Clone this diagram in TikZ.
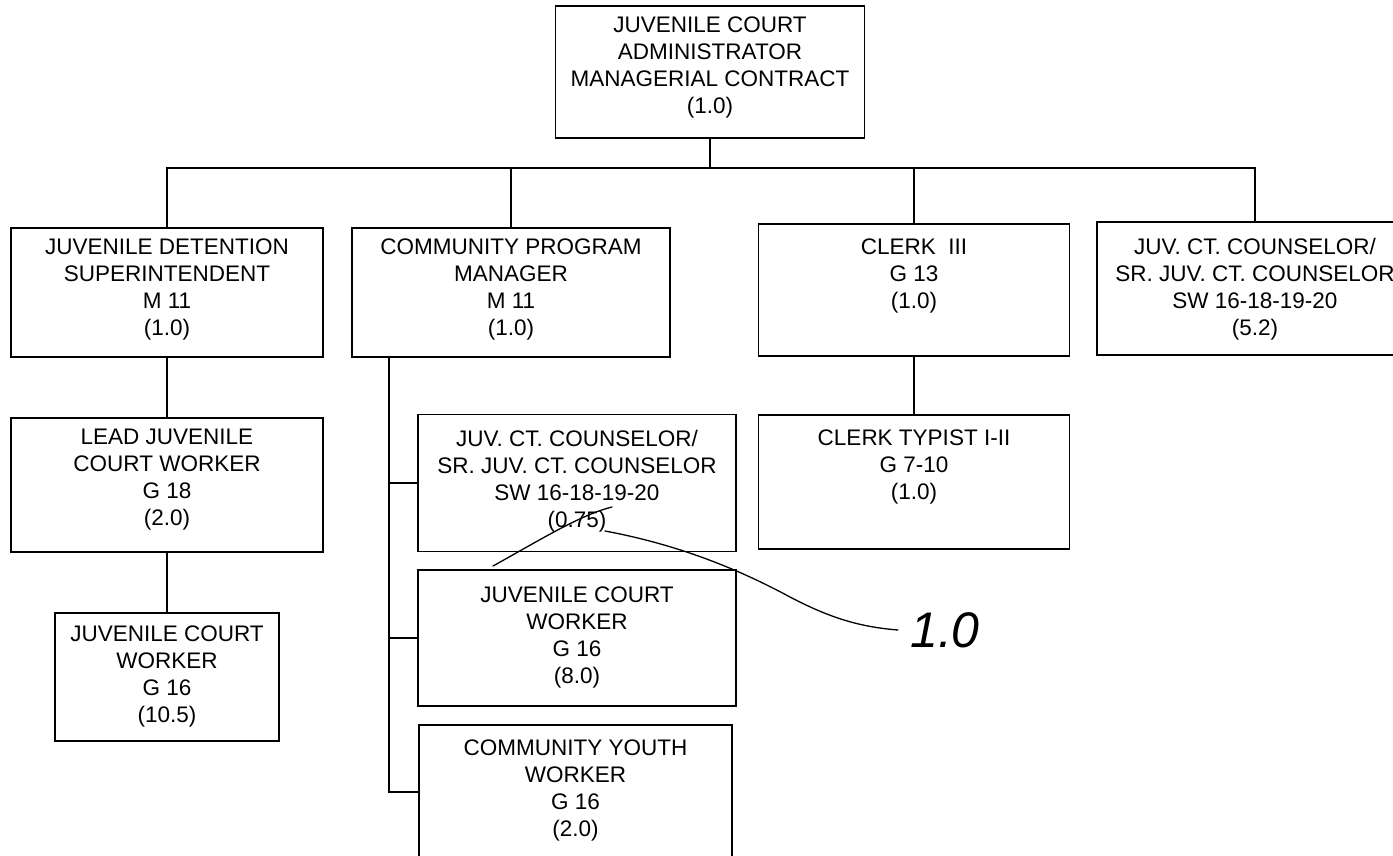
\documentclass[tikz,border=0pt]{standalone}
\usepackage{fontspec}
\setmainfont{Liberation Sans}
\begin{document}
\begin{tikzpicture}[x=1pt,y=-1pt,
  box/.style={draw, line width=1.8pt, inner sep=0pt},
  txt/.style={align=center, inner sep=0pt, anchor=north, font=\fontsize{22.5}{27}\selectfont},
  conn/.style={line width=1.8pt},
  ink/.style={line width=1.3pt, line cap=round}]
\useasboundingbox (0,0) rectangle (1393,856);
\fill[white] (0,0) rectangle (1393,856);

% boxes
\node[box, minimum width=309pt, minimum height=132pt] (adm) at (710,72) {};
\node[box, minimum width=312pt, minimum height=129pt] (jds) at (167,292.5) {};
\node[box, minimum width=318pt, minimum height=129pt] (cpm) at (511,292.5) {};
\node[box, minimum width=311pt, minimum height=132pt] (clk) at (914,290) {};
\node[box, minimum width=316pt, minimum height=133pt] (jcc) at (1255,288.5) {};
\node[box, minimum width=312pt, minimum height=134pt] (ljcw) at (167,485) {};
\node[box, minimum width=224pt, minimum height=128pt] (jcwl) at (167,677) {};
\node[box, minimum width=318pt, minimum height=137pt] (jccm) at (577,483) {};
\node[box, minimum width=318pt, minimum height=136pt] (jcwm) at (577,638) {};
\node[box, minimum width=313pt, minimum height=134pt] (cyw) at (575.5,792) {};
\node[box, minimum width=311pt, minimum height=134pt] (typ) at (914,482) {};

% texts
\node[txt] (tadm) at ([yshift=-11pt]adm.north) {JUVENILE COURT\\ADMINISTRATOR\\MANAGERIAL CONTRACT\\(1.0)};
\node[txt] (tjds) at ([yshift=-11pt]jds.north) {JUVENILE DETENTION\\SUPERINTENDENT\\M 11\\(1.0)};
\node[txt] (tcpm) at ([yshift=-11pt]cpm.north) {COMMUNITY PROGRAM\\MANAGER\\M 11\\(1.0)};
\node[txt] (tclk) at ([yshift=-15pt]clk.north) {CLERK\ \ III\\G 13\\(1.0)};
\node[txt] (tjcc) at ([yshift=-17pt]jcc.north) {JUV. CT. COUNSELOR/\\SR. JUV. CT. COUNSELOR\\SW 16-18-19-20\\(5.2)};
\node[txt] (tljcw) at ([yshift=-12pt]ljcw.north) {LEAD JUVENILE\\COURT WORKER\\G 18\\(2.0)};
\node[txt] (tjcwl) at ([yshift=-13pt]jcwl.north) {JUVENILE COURT\\WORKER\\G 16\\(10.5)};
\node[txt] (tjccm) at ([yshift=-16pt]jccm.north) {JUV. CT. COUNSELOR/\\SR. JUV. CT. COUNSELOR\\SW 16-18-19-20\\(0.75)};
\node[txt] (tjcwm) at ([yshift=-17pt]jcwm.north) {JUVENILE COURT\\WORKER\\G 16\\(8.0)};
\node[txt] (tcyw) at ([yshift=-15pt]cyw.north) {COMMUNITY YOUTH\\WORKER\\G 16\\(2.0)};
\node[txt] (ttyp) at ([yshift=-15pt]typ.north) {CLERK TYPIST I-II\\G 7-10\\(1.0)};

% connectors
\coordinate (bus) at (710,168);
\draw[conn] (adm.south) -- (bus);
\draw[conn] (jds.north) |- (bus) -| (jcc.north);
\draw[conn] (cpm.north) -- (cpm.north |- bus);
\draw[conn] (clk.north) -- (clk.north |- bus);
\draw[conn] (jds.south) -- (ljcw.north);
\draw[conn] (ljcw.south) -- (jcwl.north);
\draw[conn] (clk.south) -- (typ.north);
\coordinate (trunk) at (389,357);
\draw[conn] (trunk) |- (cyw.west);
\draw[conn] (jccm.west) -- (jccm.west -| trunk);
\draw[conn] (jcwm.west) -- (jcwm.west -| trunk);

% handwritten annotation
\draw[ink] (493,566) .. controls (540,540) and (580,515) .. (612,507);
\coordinate (a0) at (605,531);
\node[inner sep=0pt, font=\fontsize{50}{50}\selectfont\itshape] (hw) at (945,630) {1.0};
\draw[ink] (a0) .. controls (680,545) and (740,570) .. (790,597) .. controls (830,618) and (860,627) .. ([xshift=-12pt]hw.west);
\end{tikzpicture}
\end{document}
